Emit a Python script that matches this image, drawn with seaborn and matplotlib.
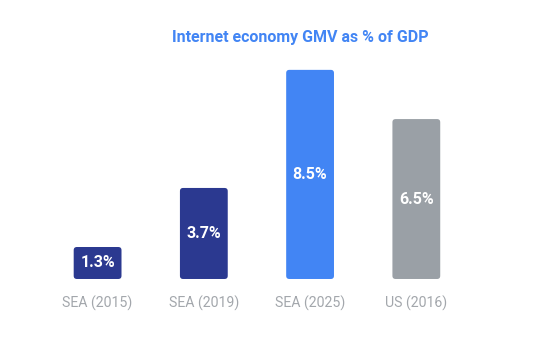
import matplotlib
matplotlib.use("Agg")
import matplotlib.pyplot as plt
from matplotlib.patches import FancyBboxPatch
import seaborn as sns

# Data
categories = ["SEA (2015)", "SEA (2019)", "SEA (2025)", "US (2016)"]
values = [1.3, 3.7, 8.5, 6.5]
bar_colors = ["#2B3990", "#2B3990", "#4285F4", "#9AA0A6"]

sns.set_style("white")
plt.rcParams["font.family"] = ["Roboto", "DejaVu Sans"]

fig = plt.figure(figsize=(5.58, 3.54), dpi=100)
ax = fig.add_axes([0.0797, 0.2119, 0.7616, 0.695])

sns.barplot(x=categories, y=values, hue=categories, palette=bar_colors,
            legend=False, width=0.45, saturation=1, ax=ax)

ax.set_xlim(-0.5, 3.5)
ax.set_ylim(0, 10)

# swap square bars for rounded ones
aspect = (1 / 24.6) / (1 / 106.2)
for patch in list(ax.patches):
    x, y = patch.get_x(), patch.get_y()
    w, h = patch.get_width(), patch.get_height()
    color = patch.get_facecolor()
    patch.remove()
    ax.add_patch(FancyBboxPatch((x, y), w, h,
                                boxstyle="round,pad=0,rounding_size=0.03",
                                mutation_aspect=aspect,
                                facecolor=color, edgecolor="none"))

# value labels inside the bars
for i, v in enumerate(values):
    ax.text(i, v / 2, f"{v}%", ha="center", va="center",
            color="white", fontsize=11.5, fontweight="bold")

ax.tick_params(axis="x", length=0, pad=12, labelsize=10.2, labelcolor="#A3A7AC")
ax.set_xlabel("")
ax.set_ylabel("")
ax.set_yticks([])
sns.despine(ax=ax, left=True, bottom=True)

fig.text(0.5376, 0.8927, "Internet economy GMV as % of GDP", ha="center",
         va="center", color="#4285F4", fontsize=11.5, fontweight="bold")

fig.savefig("out.png", dpi=100, facecolor="white")
